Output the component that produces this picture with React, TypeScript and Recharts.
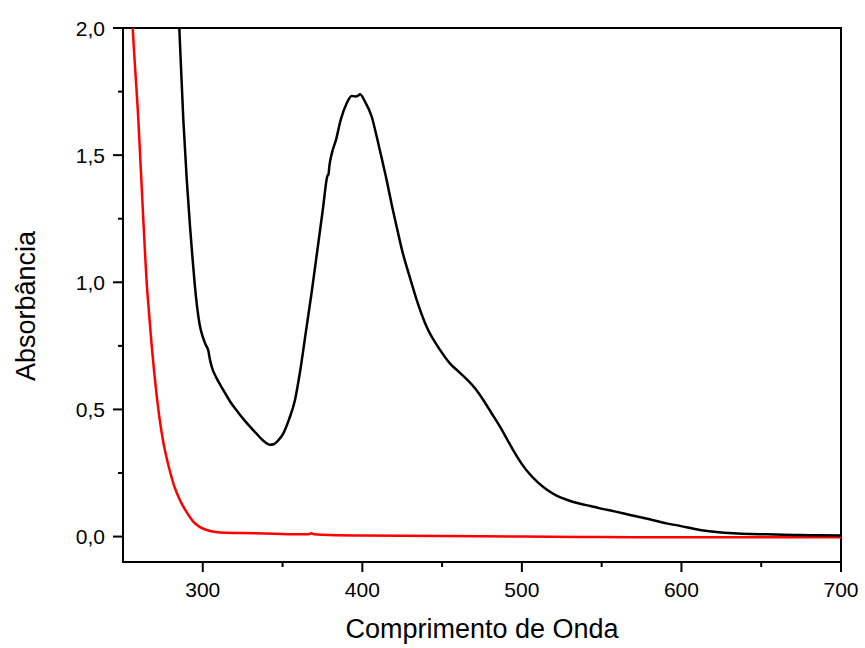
import React from "react";
import { LineChart, Line, XAxis, YAxis, ReferenceArea } from "recharts";

// Sample spectrum (black): wavelength in nm, absorbance
const sampleWl = [
  284, 285.3, 287.8, 290, 292, 293.5, 295, 296.5, 298, 300, 302, 303, 303.6, 304,
  305.6, 308.5, 312.9, 317, 322.3, 327.5, 333.8, 337, 339.5, 342, 344.5, 347, 350.5,
  354, 357.8, 361, 364.5, 368, 371.0, 375.2, 378.2, 378.8, 379.3, 381, 383.5, 386.4,
  390.2, 393.3, 395.5, 397.6, 398.5, 401.7, 405.9, 409.0, 411.7, 415.3, 418.6, 421.7,
  424.9, 429.9, 434.1, 440.3, 448.7, 455, 461, 466, 471, 476, 481, 486, 490.5, 495,
  500, 505, 510, 515.5, 522, 529, 536, 543, 549, 558, 567.8, 580, 590.7, 599.1, 611.6,
  622, 632.5, 643, 653.4, 664, 674.3, 687, 700,
];
const sampleAbs = [
  2.2, 2.0, 1.64, 1.40, 1.22, 1.10, 0.99, 0.90, 0.835, 0.785, 0.752, 0.74, 0.728, 0.712,
  0.668, 0.625, 0.576, 0.532, 0.487, 0.447, 0.404, 0.382, 0.369, 0.361, 0.363, 0.376, 0.406,
  0.46, 0.537, 0.65, 0.80, 0.95, 1.088, 1.284, 1.42, 1.425, 1.455, 1.51, 1.560, 1.638,
  1.704, 1.733, 1.731, 1.735, 1.739, 1.710, 1.651, 1.573, 1.50, 1.40, 1.30, 1.213,
  1.126, 1.017, 0.930, 0.825, 0.734, 0.68, 0.645, 0.615, 0.58, 0.535, 0.485, 0.435,
  0.385, 0.335, 0.285, 0.245, 0.213, 0.185, 0.16, 0.143, 0.13, 0.12, 0.111, 0.099,
  0.085, 0.068, 0.052, 0.042, 0.026, 0.018, 0.013, 0.010, 0.009, 0.007, 0.006, 0.005,
  0.004,
];

// Reference spectrum (red)
const blankWl = [
  255.3, 256.1, 259.6, 262.7, 265, 266.5, 268, 269.5, 271, 273, 275.3, 277.5, 279.5,
  282, 285.7, 290, 294, 298, 302.5, 308, 315.0, 331.7, 345, 360.9, 366, 368, 370, 375,
  400, 450, 500, 550, 600, 650, 700,
];
const blankAbs = [
  2.1, 2.0, 1.64, 1.25, 0.985, 0.865, 0.75, 0.65, 0.56, 0.46, 0.37, 0.305, 0.255,
  0.20, 0.143, 0.095, 0.059, 0.038, 0.026, 0.018, 0.015, 0.013, 0.011, 0.009, 0.009,
  0.013, 0.009, 0.007, 0.004, 0.002, 0.0, -0.002, -0.003, -0.003, -0.003,
];

const xTicks = [300, 350, 400, 450, 500, 550, 600, 650, 700];
const yTicks = [0, 0.25, 0.5, 0.75, 1, 1.25, 1.5, 1.75, 2];
const xDomain: [number, number] = [250, 700];
const yDomain: [number, number] = [-0.1, 2.0];

const xTitle = "Comprimento de Onda";
const yTitle = "Absorbância";

const sampleData = sampleWl.map((wl, i) => ({ wl, abs: sampleAbs[i] }));
const blankData = blankWl.map((wl, i) => ({ wl, abs: blankAbs[i] }));

const FONT = "'Liberation Sans', Arial, sans-serif";
const TICK_FONT = 21;
const TITLE_FONT = 27;

const fmt = (v: number) => v.toFixed(1).replace(".", ",");

const XTick = (props: any) => {
  const { x, y, payload } = props;
  const major = payload.value % 100 === 0;
  return (
    <g>
      <line x1={x} y1={y} x2={x} y2={y + (major ? 10 : 5)} stroke="#000" strokeWidth={2} />
      {major && (
        <text x={x} y={y + 35} textAnchor="middle" fontFamily={FONT} fontSize={TICK_FONT} fill="#000">
          {payload.value}
        </text>
      )}
    </g>
  );
};

const YTick = (props: any) => {
  const { x, y, payload } = props;
  const major = Math.abs((payload.value * 2) % 1) < 1e-6;
  return (
    <g>
      <line x1={x} y1={y} x2={x - (major ? 10 : 5)} y2={y} stroke="#000" strokeWidth={2} />
      {major && (
        <text x={x - 18} y={y + 7.5} textAnchor="end" fontFamily={FONT} fontSize={TICK_FONT} fill="#000">
          {fmt(payload.value)}
        </text>
      )}
    </g>
  );
};

const XTitle = (props: any) => {
  const { viewBox } = props;
  const cx = viewBox.x + viewBox.width / 2;
  return (
    <text x={cx} y={viewBox.y + 76} textAnchor="middle" fontFamily={FONT} fontSize={TITLE_FONT} fill="#000">
      {xTitle}
    </text>
  );
};

const YTitle = (props: any) => {
  const { viewBox } = props;
  const cy = viewBox.y + viewBox.height / 2 + 11;
  const tx = viewBox.x + 12;
  return (
    <text
      x={tx}
      y={cy}
      transform={`rotate(-90 ${tx} ${cy})`}
      textAnchor="middle"
      fontFamily={FONT}
      fontSize={TITLE_FONT}
      fill="#000"
    >
      {yTitle}
    </text>
  );
};

export default function App() {
  return (
    <div style={{ position: "absolute", left: 0, top: 0, background: "#fff" }}>
      <LineChart width={865} height={648} margin={{ top: 28, right: 24, bottom: 26, left: 23 }}>
        <XAxis
          xAxisId="bottom"
          type="number"
          dataKey="wl"
          domain={xDomain}
          allowDataOverflow
          ticks={xTicks}
          interval={0}
          tickSize={0}
          tickMargin={0}
          tickLine={false}
          tick={<XTick />}
          axisLine={{ stroke: "#000", strokeWidth: 2 }}
          height={60}
          label={<XTitle />}
        />
        <YAxis
          yAxisId="left"
          type="number"
          domain={yDomain}
          allowDataOverflow
          ticks={yTicks}
          interval={0}
          tickSize={0}
          tickMargin={0}
          tickLine={false}
          tick={<YTick />}
          axisLine={{ stroke: "#000", strokeWidth: 2 }}
          width={100}
          label={<YTitle />}
        />
        {/* plot frame */}
        <ReferenceArea
          xAxisId="bottom"
          yAxisId="left"
          x1={xDomain[0]}
          x2={xDomain[1]}
          y1={yDomain[0]}
          y2={yDomain[1]}
          fill="none"
          fillOpacity={0}
          stroke="#000"
          strokeWidth={2}
          ifOverflow="visible"
        />
        <Line
          xAxisId="bottom"
          yAxisId="left"
          data={blankData}
          dataKey="abs"
          type="monotone"
          stroke="#ff0000"
          strokeWidth={2.5}
          dot={false}
          isAnimationActive={false}
        />
        <Line
          xAxisId="bottom"
          yAxisId="left"
          data={sampleData}
          dataKey="abs"
          type="monotone"
          stroke="#000000"
          strokeWidth={2.5}
          dot={false}
          isAnimationActive={false}
        />
      </LineChart>
    </div>
  );
}
